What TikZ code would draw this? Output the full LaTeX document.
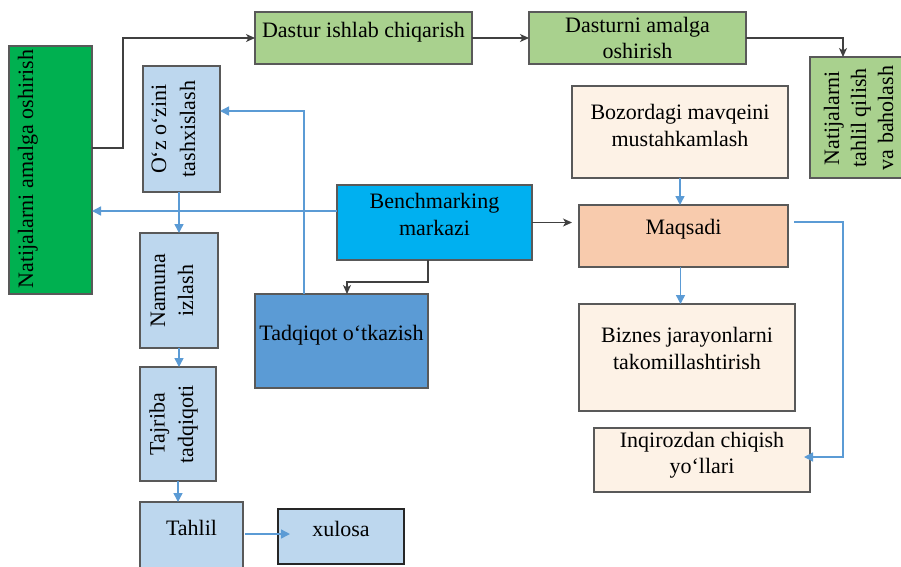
\documentclass[tikz,border=0pt]{standalone}
\usepackage{fontspec}
\setmainfont{Liberation Serif}
\usetikzlibrary{arrows.meta}
\definecolor{bord}{RGB}{89,89,89}
\definecolor{cgreen}{HTML}{00B050}
\definecolor{lgreen}{HTML}{A9D18E}
\definecolor{lblue}{HTML}{BDD7EE}
\definecolor{cyanb}{HTML}{00B0F0}
\definecolor{mblue}{HTML}{5B9BD5}
\definecolor{peach}{HTML}{F8CBAD}
\definecolor{cream}{HTML}{FDF2E6}
\definecolor{darkline}{RGB}{64,64,64}
\definecolor{blueline}{HTML}{5B9BD5}
\tikzset{
  box/.style={draw=bord, line width=1.3pt, inner sep=0pt, outer sep=0pt},
  txt/.style={inner sep=0pt, anchor=base, font=\fontsize{22}{26}\selectfont},
  vtxt/.style={txt, rotate=90},
  darr/.style={draw=darkline, line width=1.2pt, -{Stealth[length=9pt,width=8pt,inset=2.5pt]}},
  barr/.style={draw=blueline, line width=1.4pt, -{Triangle[length=9pt,width=9pt]}}
}
\begin{document}
\begin{tikzpicture}[x=1pt,y=-1pt]
\fill[white] (0,0) rectangle (901,566);
\useasboundingbox (0,0) rectangle (901,566);

% boxes
\node[box, fill=cgreen, minimum width=83pt, minimum height=248pt] (gl) at (50.5,170) {};
\node[box, fill=lgreen, minimum width=217pt, minimum height=52pt] (ds) at (363.5,38) {};
\node[box, fill=lgreen, minimum width=217pt, minimum height=52pt] (da) at (637.5,38) {};
\node[box, fill=lgreen, minimum width=96pt, minimum height=121pt] (nt) at (858,117.5) {};
\node[box, fill=cream, minimum width=216pt, minimum height=92pt] (boz) at (680,132) {};
\node[box, fill=lblue, minimum width=77pt, minimum height=126pt] (oz) at (181.5,129) {};
\node[box, fill=cyanb, minimum width=195pt, minimum height=75pt] (bm) at (434.5,222.5) {};
\node[box, fill=peach, minimum width=209pt, minimum height=62pt] (maq) at (683.5,236) {};
\node[box, fill=lblue, minimum width=78pt, minimum height=115pt] (nm) at (179,290.5) {};
\node[box, fill=mblue, minimum width=173pt, minimum height=94pt] (td) at (341.5,341) {};
\node[box, fill=cream, minimum width=216pt, minimum height=107pt] (biz) at (687,357.5) {};
\node[box, fill=cream, minimum width=216pt, minimum height=64pt] (inq) at (702,460) {};
\node[box, fill=lblue, minimum width=76pt, minimum height=114pt] (tj) at (178,424) {};
\node[box, fill=lblue, minimum width=103pt, minimum height=73pt] (th) at (191.5,538.5) {};
\node[box, draw=black!85, fill=lblue, minimum width=126pt, minimum height=55pt] (xu) at (341,536.5) {};

% texts
\node[vtxt] (glt) at (33,169) {Natijalarni amalga oshirish};
\node[txt] (dst) at (363.5,37) {Dastur ishlab chiqarish};
\node[txt] (dat1) at (637.5,32) {Dasturni amalga};
\node[txt] (dat2) at (637.5,58) {oshirish};
\node[vtxt] (ntt1) at (839,118) {Natijalarni};
\node[vtxt] (ntt2) at (866,118) {tahlil qilish};
\node[vtxt] (ntt3) at (893,118) {va baholash};
\node[txt] (bozt1) at (680,119) {Bozordagi mavqeini};
\node[txt] (bozt2) at (680,146.5) {mustahkamlash};
\node[vtxt] (ozt1) at (166,129) {O‘z o‘zini};
\node[vtxt] (ozt2) at (195,129) {tashxislash};
\node[txt] (bmt1) at (434.5,208) {Benchmarking};
\node[txt] (bmt2) at (434.5,235) {markazi};
\node[txt] (maqt) at (683.5,234) {Maqsadi};
\node[vtxt] (nmt1) at (165,290.5) {Namuna};
\node[vtxt] (nmt2) at (193,290.5) {izlash};
\node[txt] (tdt) at (341.5,340) {Tadqiqot o‘tkazish};
\node[txt] (bizt1) at (687,342) {Biznes jarayonlarni};
\node[txt] (bizt2) at (687,369) {takomillashtirish};
\node[txt] (inqt1) at (702,447) {Inqirozdan chiqish};
\node[txt] (inqt2) at (702,473) {yo‘llari};
\node[vtxt] (tjt1) at (164.5,424) {Tajriba};
\node[vtxt] (tjt2) at (193,424) {tadqiqoti};
\node[txt] (tht) at (191.5,535) {Tahlil};
\node[txt] (xut) at (341,536) {xulosa};

% connectors (dark)
\draw[darr] ([yshift=22]gl.east) -- ++(31,0) |- (ds.west);
\draw[darr] (ds.east) -- (da.west);
\draw[darr] (da.east) -| ([xshift=-15]nt.north);
\draw[darr] (bm.east) -- ([xshift=-7]bm.east -| maq.west);
\draw[darr] ([xshift=-6.5]bm.south) |- ([xshift=5.5,yshift=12]td.north) -- ([xshift=5.5]td.north);

% connectors (blue)
\draw[barr] ([yshift=11.5]bm.west) -- ([yshift=11.5]bm.west -| gl.east);
\draw[barr] ([xshift=-37.5]td.north) |- ([yshift=18]oz.east);
\draw[barr] (boz.south) -- (boz.south |- maq.north);
\draw[barr] ([xshift=-3]maq.south) -- ([xshift=-3]maq.south |- biz.north);
\draw[barr] ([xshift=6,yshift=14]maq.east) -- ++(49,0) |- ([xshift=-6,yshift=3]inq.east);
\draw[barr] ([xshift=-2.5]oz.south) -- ([xshift=-2.5]oz.south |- nm.north);
\draw[barr] (nm.south) -- (nm.south |- tj.north);
\draw[barr] (tj.south) -- (tj.south |- th.north);
\draw[barr] ([xshift=2,yshift=4.5]th.east) -- ([xshift=12,yshift=4.5]th.east -| xu.west);
\end{tikzpicture}
\end{document}
